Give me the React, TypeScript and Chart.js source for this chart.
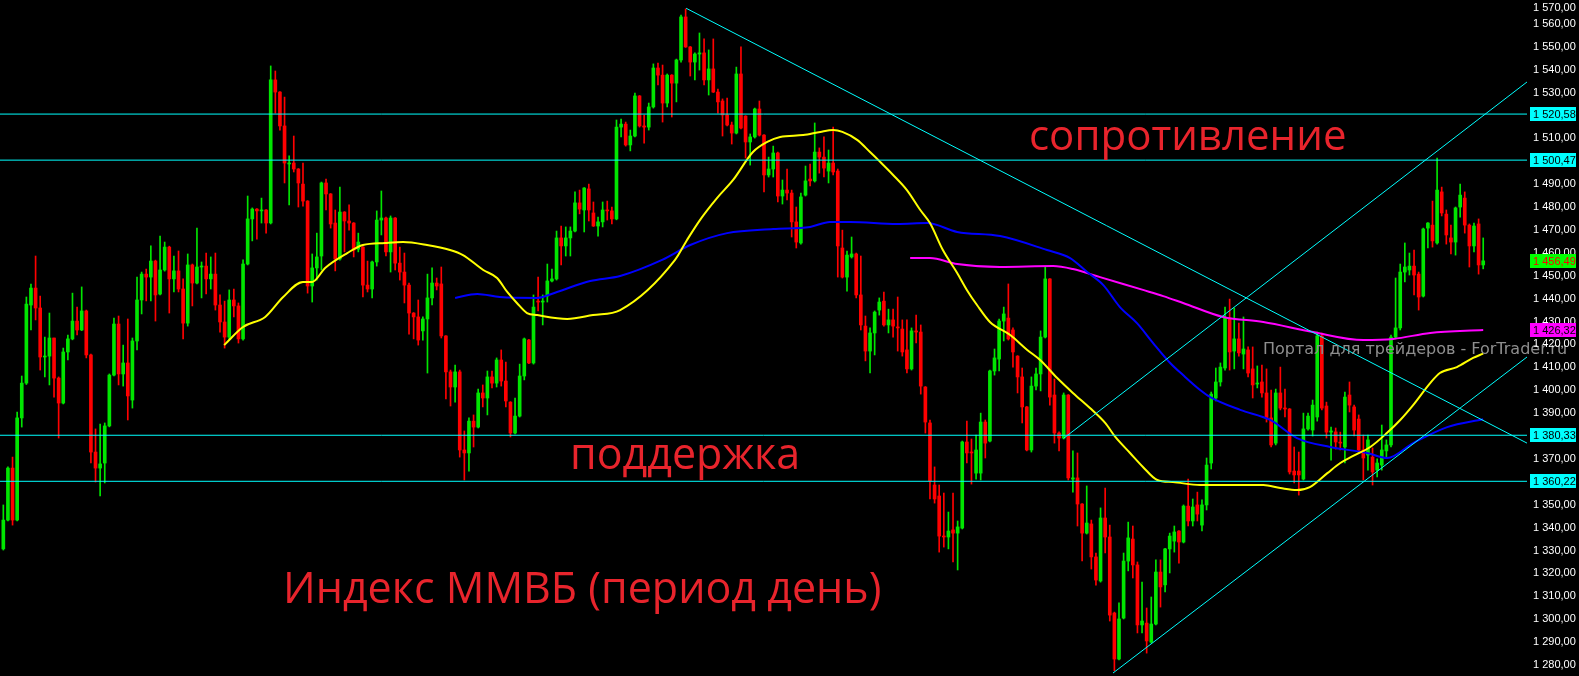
import React, { useEffect, useRef } from 'react';
import { Chart, registerables } from 'chart.js';

Chart.register(...registerables);

// ---- candle data (daily MICEX index) ----
const OPEN = [
  1330.7, 1343.3, 1366.0, 1343.3, 1387.9, 1403.1, 1437.2, 1444.6, 1435.9, 1414.5,
  1414.9, 1422.8, 1405.3, 1394.4, 1416.7, 1422.4, 1430.2, 1426.3, 1434.6, 1415.4,
  1373.0, 1366.0, 1368.2, 1384.4, 1406.6, 1428.9, 1407.1, 1411.9, 1395.7, 1421.5,
  1439.4, 1450.7, 1449.4, 1456.4, 1442.0, 1452.5, 1462.5, 1448.6, 1452.1, 1444.2,
  1429.3, 1454.7, 1446.8, 1453.8, 1454.2, 1448.6, 1450.7, 1437.2, 1429.8, 1423.2,
  1439.4, 1436.8, 1422.4, 1455.1, 1474.8, 1479.1, 1478.3, 1478.7, 1473.0, 1535.5,
  1530.2, 1515.4, 1498.8, 1499.2, 1496.6, 1490.0, 1482.6, 1445.5, 1453.4, 1458.6,
  1490.5, 1485.7, 1473.0, 1457.3, 1477.8, 1473.9, 1473.0, 1461.6, 1462.5, 1445.9,
  1444.2, 1456.0, 1474.3, 1475.2, 1460.4, 1475.2, 1455.5, 1451.6, 1445.9, 1433.7,
  1432.0, 1425.9, 1431.1, 1440.3, 1446.8, 1446.4, 1423.7, 1408.0, 1401.4, 1408.0,
  1373.9, 1372.6, 1386.5, 1383.9, 1398.8, 1396.6, 1405.8, 1403.1, 1413.2, 1404.0,
  1394.8, 1381.3, 1388.7, 1406.2, 1421.9, 1411.9, 1438.9, 1438.5, 1441.1, 1447.7,
  1448.6, 1466.5, 1463.0, 1466.5, 1469.5, 1481.8, 1478.7, 1487.9, 1477.4, 1471.7,
  1473.5, 1478.7, 1478.3, 1474.8, 1514.9, 1516.2, 1507.1, 1511.0, 1528.5, 1515.4,
  1514.9, 1523.7, 1540.7, 1537.6, 1525.4, 1537.6, 1534.1, 1544.2, 1563.0, 1549.9,
  1543.3, 1546.8, 1547.3, 1535.5, 1540.3, 1530.2, 1526.3, 1520.2, 1515.8, 1512.3,
  1538.1, 1519.7, 1508.4, 1510.6, 1522.8, 1511.4, 1494.0, 1496.6, 1503.6, 1484.8,
  1487.4, 1486.1, 1473.5, 1464.3, 1485.2, 1492.2, 1491.4, 1504.0, 1501.8, 1495.7,
  1499.2, 1495.7, 1462.1, 1449.4, 1458.2, 1459.5, 1441.6, 1428.0, 1417.1, 1425.0,
  1435.0, 1438.9, 1428.5, 1430.7, 1427.6, 1426.7, 1417.6, 1409.3, 1425.9, 1425.4,
  1401.4, 1385.7, 1358.6, 1353.8, 1336.3, 1335.9, 1339.0, 1337.6, 1339.8, 1377.4,
  1373.0, 1363.8, 1363.8, 1386.1, 1377.8, 1408.4, 1413.6, 1430.2, 1431.5, 1426.3,
  1414.9, 1405.8, 1392.7, 1373.9, 1401.8, 1407.1, 1423.2, 1448.6, 1397.9, 1381.3,
  1379.1, 1397.9, 1361.2, 1361.7, 1350.3, 1337.6, 1341.6, 1327.2, 1316.7, 1344.2,
  1335.9, 1302.7, 1282.6, 1300.5, 1325.4, 1335.0, 1323.7, 1297.5, 1298.3, 1290.0,
  1297.9, 1320.6, 1315.0, 1330.7, 1334.1, 1338.5, 1333.7, 1349.4, 1342.9, 1349.9,
  1341.1, 1349.9, 1368.2, 1396.6, 1403.6, 1409.7, 1431.5, 1417.1, 1422.4, 1415.8,
  1417.6, 1409.3, 1402.7, 1403.6, 1398.8, 1387.9, 1376.9, 1398.8, 1392.0, 1391.8,
  1364.7, 1364.7, 1361.2, 1383.1, 1382.6, 1388.3, 1423.7, 1393.1, 1381.7, 1381.8,
  1377.2, 1375.2, 1397.9, 1392.7, 1387.4, 1373.9, 1371.7, 1370.8, 1365.1, 1367.3,
  1373.5, 1376.1, 1423.2, 1427.2, 1451.6, 1452.5, 1454.2, 1450.7, 1441.1, 1470.8,
  1472.1, 1464.3, 1486.6, 1476.9, 1466.5, 1464.7, 1480.0, 1483.9, 1472.1, 1463.0,
  1472.6, 1454.7,
];

const HIGH = [
  1349.9, 1366.5, 1370.8, 1390.5, 1406.2, 1440.7, 1446.4, 1458.6, 1441.1, 1423.2,
  1433.7, 1422.8, 1405.8, 1418.4, 1424.1, 1442.4, 1436.3, 1445.1, 1435.0, 1415.8,
  1383.1, 1385.2, 1385.7, 1407.1, 1431.5, 1432.4, 1419.7, 1431.1, 1422.8, 1449.4,
  1451.6, 1452.9, 1463.0, 1456.8, 1467.3, 1464.7, 1462.9, 1458.6, 1460.8, 1448.6,
  1459.5, 1455.1, 1470.8, 1456.0, 1459.9, 1458.2, 1459.9, 1441.6, 1438.9, 1443.8,
  1444.2, 1438.1, 1456.9, 1484.8, 1479.6, 1479.3, 1483.9, 1478.9, 1541.6, 1539.4,
  1530.4, 1528.0, 1502.3, 1511.0, 1496.8, 1499.2, 1482.8, 1459.5, 1468.6, 1490.9,
  1492.2, 1485.9, 1478.7, 1488.7, 1478.0, 1480.9, 1473.2, 1468.6, 1462.7, 1456.4,
  1456.4, 1478.3, 1487.0, 1475.6, 1476.1, 1475.4, 1462.5, 1459.9, 1446.8, 1433.9,
  1439.4, 1432.0, 1450.7, 1453.4, 1449.0, 1453.8, 1423.9, 1408.8, 1411.0, 1408.8,
  1382.2, 1387.9, 1389.2, 1400.5, 1402.3, 1408.4, 1408.4, 1414.1, 1417.6, 1412.3,
  1395.0, 1396.6, 1411.4, 1422.8, 1422.2, 1441.6, 1449.4, 1441.6, 1455.1, 1452.9,
  1469.5, 1471.7, 1471.3, 1471.3, 1486.6, 1487.4, 1488.5, 1490.0, 1482.2, 1475.6,
  1482.2, 1482.6, 1480.0, 1518.0, 1518.4, 1517.1, 1513.6, 1529.8, 1528.7, 1520.2,
  1525.4, 1542.5, 1542.9, 1542.0, 1538.1, 1537.8, 1544.6, 1563.8, 1566.5, 1550.1,
  1547.3, 1556.0, 1553.4, 1548.6, 1553.4, 1531.5, 1527.2, 1527.6, 1517.1, 1541.1,
  1549.9, 1519.9, 1511.9, 1523.2, 1526.3, 1511.6, 1501.8, 1506.6, 1504.0, 1491.8,
  1496.6, 1487.4, 1480.0, 1486.1, 1497.9, 1498.8, 1516.7, 1505.8, 1510.6, 1504.9,
  1514.9, 1496.6, 1469.9, 1460.8, 1466.9, 1459.9, 1458.6, 1432.4, 1427.2, 1434.6,
  1440.3, 1442.9, 1435.4, 1435.4, 1440.7, 1430.7, 1430.7, 1427.2, 1432.8, 1428.5,
  1401.6, 1387.0, 1366.5, 1358.6, 1355.1, 1346.8, 1355.1, 1342.9, 1377.8, 1386.5,
  1378.7, 1380.4, 1390.0, 1387.0, 1408.8, 1418.0, 1431.1, 1436.3, 1446.4, 1427.2,
  1415.1, 1409.7, 1392.9, 1405.8, 1409.7, 1425.9, 1453.8, 1448.8, 1404.9, 1381.8,
  1398.8, 1398.1, 1373.5, 1372.6, 1350.5, 1358.2, 1343.3, 1328.9, 1348.6, 1357.3,
  1341.1, 1303.1, 1307.1, 1328.9, 1342.4, 1340.7, 1325.0, 1316.2, 1304.9, 1309.7,
  1325.9, 1325.9, 1330.9, 1337.6, 1340.7, 1338.7, 1349.9, 1361.2, 1352.5, 1355.5,
  1352.1, 1370.4, 1399.2, 1409.7, 1411.9, 1436.3, 1439.8, 1435.9, 1429.3, 1432.0,
  1418.9, 1418.9, 1410.6, 1411.0, 1409.3, 1400.1, 1400.5, 1410.1, 1400.5, 1392.0,
  1375.2, 1373.0, 1390.0, 1390.0, 1395.7, 1425.4, 1425.0, 1394.8, 1383.9, 1383.5,
  1381.7, 1399.2, 1403.6, 1393.5, 1389.2, 1380.4, 1380.4, 1374.8, 1370.0, 1384.8,
  1378.3, 1424.1, 1449.0, 1455.1, 1464.3, 1459.9, 1461.2, 1451.6, 1470.8, 1473.2,
  1482.6, 1501.4, 1488.7, 1478.7, 1472.1, 1480.0, 1490.0, 1486.6, 1472.6, 1473.0,
  1474.8, 1466.5,
];

const LOW = [
  1330.2, 1342.9, 1341.1, 1342.9, 1383.9, 1402.5, 1426.3, 1430.7, 1408.8, 1405.8,
  1402.3, 1397.0, 1379.1, 1394.0, 1413.2, 1422.0, 1424.1, 1426.0, 1414.1, 1368.2,
  1359.9, 1353.8, 1359.5, 1384.0, 1406.2, 1402.3, 1401.8, 1387.0, 1392.2, 1417.6,
  1433.3, 1439.0, 1439.0, 1430.2, 1441.6, 1452.0, 1433.7, 1442.9, 1442.9, 1422.4,
  1428.0, 1436.8, 1446.4, 1440.3, 1442.0, 1444.2, 1435.0, 1425.4, 1418.4, 1421.9,
  1432.0, 1420.6, 1421.9, 1454.7, 1465.2, 1466.0, 1473.0, 1468.6, 1472.6, 1521.0,
  1513.6, 1490.5, 1480.9, 1495.3, 1480.0, 1480.4, 1442.4, 1438.5, 1448.1, 1452.5,
  1478.7, 1470.8, 1452.1, 1456.8, 1460.4, 1469.9, 1458.2, 1460.4, 1440.7, 1442.9,
  1440.3, 1454.2, 1467.8, 1458.6, 1451.6, 1452.5, 1448.1, 1438.1, 1424.5, 1422.4,
  1419.7, 1421.9, 1407.5, 1437.2, 1443.8, 1422.8, 1396.2, 1393.1, 1394.8, 1370.8,
  1360.8, 1364.7, 1375.2, 1383.5, 1392.7, 1389.2, 1401.0, 1401.4, 1401.8, 1392.7,
  1379.6, 1380.9, 1388.3, 1404.5, 1411.6, 1411.4, 1434.6, 1428.5, 1438.5, 1447.3,
  1448.1, 1454.7, 1458.6, 1458.6, 1469.1, 1477.0, 1469.1, 1473.9, 1471.5, 1467.3,
  1471.3, 1474.3, 1472.6, 1474.4, 1510.6, 1506.6, 1504.5, 1510.6, 1514.9, 1507.9,
  1513.6, 1523.2, 1533.3, 1517.1, 1523.7, 1519.3, 1525.9, 1543.3, 1549.7, 1537.2,
  1535.5, 1539.8, 1533.3, 1528.9, 1530.0, 1521.0, 1511.0, 1515.4, 1507.5, 1511.9,
  1514.1, 1501.4, 1498.3, 1510.1, 1511.0, 1486.6, 1493.1, 1493.1, 1482.2, 1481.3,
  1483.1, 1466.9, 1462.1, 1463.8, 1484.8, 1489.2, 1490.9, 1494.8, 1493.1, 1490.5,
  1494.0, 1449.4, 1449.0, 1443.3, 1457.7, 1440.3, 1426.3, 1412.8, 1407.5, 1415.4,
  1432.8, 1428.0, 1425.0, 1423.2, 1417.1, 1414.9, 1407.5, 1408.8, 1420.6, 1398.3,
  1381.3, 1352.5, 1350.7, 1329.3, 1331.5, 1330.7, 1325.0, 1321.5, 1339.4, 1368.2,
  1359.0, 1361.2, 1360.8, 1370.4, 1377.4, 1406.6, 1408.4, 1421.5, 1421.9, 1410.1,
  1398.8, 1385.7, 1373.5, 1373.0, 1400.1, 1399.7, 1422.8, 1393.5, 1376.9, 1373.5,
  1378.7, 1360.8, 1355.5, 1340.7, 1325.4, 1337.2, 1321.9, 1314.9, 1316.2, 1328.9,
  1299.2, 1277.5, 1282.2, 1300.1, 1321.1, 1318.0, 1294.0, 1294.0, 1285.2, 1289.6,
  1297.5, 1305.3, 1311.9, 1320.2, 1329.3, 1324.5, 1333.3, 1340.7, 1340.7, 1342.9,
  1338.5, 1347.7, 1365.6, 1395.3, 1401.8, 1408.8, 1408.8, 1409.3, 1414.9, 1409.3,
  1405.8, 1396.6, 1401.0, 1397.0, 1386.1, 1375.2, 1376.1, 1391.4, 1388.3, 1363.4,
  1359.5, 1354.2, 1360.8, 1382.6, 1380.0, 1386.5, 1391.4, 1379.1, 1369.5, 1374.3,
  1373.9, 1368.2, 1390.5, 1380.0, 1372.6, 1360.8, 1365.1, 1358.6, 1362.1, 1365.1,
  1370.4, 1375.2, 1422.4, 1426.3, 1447.3, 1450.3, 1441.6, 1435.0, 1440.7, 1462.1,
  1462.5, 1463.8, 1476.1, 1463.8, 1459.5, 1459.0, 1475.6, 1468.6, 1453.8, 1460.4,
  1450.7, 1453.0,
];

const CLOSE = [
  1343.3, 1366.0, 1343.3, 1387.9, 1403.1, 1437.6, 1444.6, 1435.9, 1414.5, 1414.9,
  1422.8, 1405.3, 1394.4, 1416.7, 1422.4, 1430.2, 1426.3, 1434.6, 1415.4, 1373.0,
  1366.0, 1367.8, 1384.4, 1406.6, 1428.9, 1407.1, 1411.9, 1397.5, 1421.5, 1439.4,
  1450.7, 1449.4, 1456.4, 1441.6, 1452.5, 1462.5, 1448.6, 1452.1, 1444.2, 1429.3,
  1454.7, 1446.8, 1453.8, 1454.2, 1448.6, 1450.7, 1437.2, 1429.8, 1423.2, 1439.4,
  1436.8, 1422.4, 1455.1, 1474.8, 1479.1, 1478.3, 1478.7, 1473.0, 1535.5, 1530.2,
  1515.4, 1499.2, 1499.2, 1496.6, 1490.5, 1482.6, 1445.5, 1453.4, 1458.2, 1490.5,
  1485.7, 1472.6, 1457.3, 1477.8, 1473.9, 1473.0, 1461.2, 1464.7, 1445.9, 1444.2,
  1456.0, 1474.3, 1475.2, 1460.4, 1475.2, 1455.5, 1451.6, 1445.9, 1433.7, 1432.0,
  1421.9, 1431.1, 1440.3, 1446.8, 1445.5, 1423.7, 1408.0, 1401.4, 1408.0, 1373.9,
  1372.6, 1386.5, 1383.9, 1398.8, 1396.6, 1405.8, 1403.1, 1413.2, 1404.0, 1395.3,
  1381.3, 1388.7, 1406.2, 1422.4, 1411.9, 1436.3, 1438.5, 1438.7, 1447.7, 1448.6,
  1466.5, 1463.0, 1466.5, 1469.5, 1481.8, 1479.1, 1488.3, 1478.7, 1471.7, 1473.5,
  1478.7, 1478.3, 1474.8, 1514.9, 1516.2, 1507.1, 1511.0, 1528.5, 1515.4, 1514.9,
  1523.7, 1540.7, 1537.6, 1525.4, 1537.6, 1534.1, 1544.2, 1563.0, 1549.9, 1543.3,
  1546.8, 1547.3, 1535.5, 1540.3, 1530.2, 1525.9, 1520.2, 1515.8, 1512.3, 1538.1,
  1514.5, 1508.4, 1510.6, 1522.8, 1511.4, 1494.0, 1496.6, 1503.6, 1484.8, 1487.4,
  1486.1, 1473.5, 1464.7, 1484.4, 1491.4, 1491.4, 1504.0, 1501.8, 1497.0, 1499.2,
  1495.3, 1463.0, 1449.4, 1459.0, 1459.5, 1441.6, 1428.5, 1417.1, 1425.0, 1434.1,
  1438.5, 1428.5, 1430.7, 1428.0, 1427.2, 1416.7, 1409.3, 1425.9, 1425.4, 1401.8,
  1386.1, 1360.4, 1352.5, 1336.3, 1335.9, 1338.5, 1337.6, 1340.3, 1377.4, 1372.6,
  1372.6, 1373.9, 1386.1, 1376.9, 1408.4, 1414.1, 1430.2, 1433.3, 1422.4, 1416.7,
  1405.8, 1392.7, 1373.9, 1401.8, 1407.1, 1423.2, 1448.6, 1397.0, 1381.3, 1379.1,
  1397.9, 1361.7, 1361.7, 1350.3, 1337.6, 1342.0, 1327.2, 1317.1, 1344.2, 1335.9,
  1301.8, 1282.6, 1300.1, 1325.4, 1335.5, 1323.7, 1297.5, 1299.2, 1290.5, 1297.9,
  1320.6, 1314.1, 1330.7, 1336.3, 1338.1, 1333.7, 1349.4, 1342.9, 1349.0, 1345.9,
  1349.9, 1367.3, 1398.3, 1403.6, 1410.1, 1431.5, 1416.7, 1422.4, 1416.3, 1418.0,
  1407.5, 1402.3, 1403.1, 1398.8, 1387.9, 1376.1, 1398.8, 1392.2, 1391.8, 1364.3,
  1363.0, 1363.0, 1383.1, 1388.7, 1393.5, 1423.7, 1392.2, 1381.7, 1382.2, 1377.4,
  1376.9, 1397.0, 1393.5, 1382.6, 1373.9, 1370.4, 1378.3, 1364.3, 1368.2, 1373.9,
  1376.1, 1423.2, 1427.2, 1451.6, 1453.8, 1454.2, 1450.3, 1440.7, 1470.4, 1473.0,
  1465.2, 1487.4, 1477.4, 1467.8, 1464.7, 1479.6, 1485.2, 1472.1, 1463.0, 1471.7,
  1454.7, 1456.49,
];

// ---- moving averages (bar index, value) ----
const MA_YELLOW_I = [47.9, 52.0, 56.8, 60.7, 65.0, 67.0, 69.8, 74.6, 78.0, 82.8, 86.7, 91.9, 96.9, 99.7, 104.1, 107.1, 109.3, 111.4, 113.6, 115.8, 122.3, 127.9, 133.8, 145.7, 148.3, 151.1, 154.8, 158.3, 162.6, 165.7, 168.5, 173.5, 177.2, 180.0, 182.0, 185.2, 188.0, 190.2, 193.0, 196.0, 198.9, 201.0, 203.8, 206.9, 209.0, 211.2, 214.0, 218.4, 222.1, 224.9, 228.6, 232.0, 235.7, 239.0, 241.2, 244.4, 247.2, 250.3, 253.7, 259.6, 266.1, 273.3, 277.0, 280.6, 283.4, 287.2, 290.0, 292.8, 296.5, 300.1, 303.0, 305.8, 309.5, 311.6, 315.3, 318.8, 321.0];
const MA_YELLOW_V = [1419.7, 1427.6, 1432.0, 1440.7, 1447.3, 1447.3, 1453.4, 1459.9, 1463.4, 1464.3, 1464.7, 1463.4, 1461.2, 1459.0, 1452.5, 1449.0, 1442.9, 1438.1, 1433.7, 1432.8, 1431.1, 1432.8, 1435.0, 1456.9, 1465.6, 1474.3, 1483.9, 1491.8, 1504.0, 1508.4, 1510.6, 1511.4, 1512.8, 1513.6, 1512.8, 1509.3, 1504.0, 1499.7, 1494.0, 1487.4, 1478.7, 1473.0, 1461.2, 1451.2, 1443.8, 1437.2, 1429.8, 1424.1, 1417.6, 1413.2, 1405.3, 1398.8, 1392.2, 1385.7, 1379.6, 1372.6, 1366.5, 1360.8, 1359.9, 1358.6, 1358.6, 1358.6, 1357.3, 1356.4, 1357.7, 1363.8, 1368.2, 1371.3, 1375.2, 1381.3, 1387.0, 1393.5, 1403.1, 1407.5, 1410.1, 1414.1, 1416.0];

const MA_BLUE_I = [98.0, 102.8, 107.7, 115.8, 120.1, 127.3, 133.8, 142.9, 149.0, 157.0, 167.0, 175.0, 179.3, 183.7, 193.9, 200.4, 206.9, 216.2, 226.4, 231.4, 235.1, 238.6, 242.2, 245.9, 249.4, 253.1, 255.9, 259.6, 261.8, 268.3, 274.8, 280.6, 287.8, 295.8, 300.2, 305.8, 313.2, 321.0];
const MA_BLUE_V = [1440.3, 1442.0, 1440.7, 1440.3, 1442.9, 1447.7, 1449.9, 1456.9, 1463.4, 1468.6, 1470.4, 1471.3, 1473.5, 1473.5, 1472.6, 1473.0, 1469.1, 1467.3, 1461.2, 1457.7, 1451.6, 1445.9, 1436.3, 1429.3, 1420.6, 1411.9, 1406.6, 1400.1, 1397.0, 1391.4, 1387.0, 1379.1, 1375.2, 1372.6, 1370.4, 1376.9, 1383.9, 1387.3];

const MA_MAGENTA_I = [196.7, 201.0, 206.9, 216.2, 227.7, 232.0, 237.9, 242.9, 247.2, 251.6, 255.9, 264.6, 273.3, 284.1, 295.0, 301.5, 309.5, 321.0];
const MA_MAGENTA_V = [1457.7, 1457.7, 1455.1, 1453.8, 1454.2, 1452.9, 1449.4, 1446.4, 1443.8, 1441.1, 1438.1, 1432.0, 1429.8, 1425.4, 1421.9, 1422.4, 1425.0, 1426.32];

// ---- drawn objects ----
const LEVELS = [1520.58, 1500.47, 1380.33, 1360.22];
const TREND_DOWN_I = [148.1, 330.5];
const TREND_DOWN_V = [1566.8, 1376.9];
const CHANNEL_UP_I = [230.0, 330.5];
const CHANNEL_UP_V = [1379.0, 1534.6];
const CHANNEL_LOW_I = [240.7, 330.5];
const CHANNEL_LOW_V = [1276.5, 1414.5];

const TICKS = [1570, 1560, 1550, 1540, 1530, 1520, 1510, 1500, 1490, 1480, 1470, 1460, 1450, 1440, 1430, 1420, 1410, 1400, 1390, 1380, 1370, 1360, 1350, 1340, 1330, 1320, 1310, 1300, 1290, 1280];
const LAST_PRICE = 1456.49;
const MA200_LAST = 1426.32;

const GREEN = '#00e600';
const RED = '#ff0000';
const CYAN = '#00ffff';
const TEXT_RED = '#e8242c';

const fmt = (v: number) => {
  const [ip, dp] = v.toFixed(2).split('.');
  return ip.replace(/\B(?=(\d{3})+(?!\d))/g, ' ') + ',' + dp;
};

const overlay = {
  id: 'overlay',
  afterDatasetsDraw(chart: any) {
    const ctx: CanvasRenderingContext2D = chart.ctx;
    const ys = chart.scales.y;
    ctx.save();
    // annotations
    ctx.fillStyle = TEXT_RED;
    ctx.textAlign = 'left';
    ctx.textBaseline = 'alphabetic';
    ctx.font = '42px "Open Sans"';
    ctx.fillText('сопротивление', 1029, 150);
    ctx.font = '43px "Open Sans"';
    ctx.fillText('поддержка', 570, 469);
    ctx.fillText('Индекс ММВБ (период день)', 283, 603);

    // watermark
    ctx.fillStyle = '#8e8e8e';
    ctx.font = '16px "DejaVu Sans"';
    ctx.fillText('Портал для трейдеров - ForTrader.ru', 1263, 354);

    // axis labels
    ctx.font = '11px "Liberation Sans"';
    ctx.textBaseline = 'middle';
    ctx.fillStyle = '#ffffff';
    TICKS.forEach((t) => {
      const y = Math.max(ys.getPixelForValue(t), 8);
      ctx.fillText(fmt(t), 1533, y);
    });
    const boxes: [number, string, string][] = [
      ...LEVELS.map((l) => [l, CYAN, '#000000'] as [number, string, string]),
      [LAST_PRICE, '#00ff00', '#ff0000'],
      [MA200_LAST, '#ff00ff', '#000000'],
    ];
    boxes.forEach(([v, bg, fg]) => {
      const y = ys.getPixelForValue(v);
      ctx.fillStyle = bg;
      ctx.fillRect(1530, Math.round(y) - 7, 46, 14);
      ctx.fillStyle = fg;
      ctx.fillText(fmt(v), 1533, Math.round(y) + 0.5);
    });
    ctx.restore();
  },
};

const pairs = (xs: number[], vs: number[]) => xs.map((x, i) => ({ x, y: vs[i] }));

export default function App() {
  const ref = useRef<HTMLCanvasElement>(null);
  useEffect(() => {
    document.body.style.margin = '0';
    document.body.style.background = '#000';
    const canvas = ref.current!;
    const idx = OPEN.map((_, i) => i);
    const colors = idx.map((i) => (CLOSE[i] >= OPEN[i] ? GREEN : RED));
    const line = (data: any[], color: string, width: number, order: number, smooth: boolean) => ({
      type: 'line' as const,
      data,
      borderColor: color,
      borderWidth: width,
      pointRadius: 0,
      fill: false,
      cubicInterpolationMode: smooth ? ('monotone' as const) : ('default' as const),
      tension: 0,
      order,
    });
    const chart = new Chart(canvas, {
      type: 'bar',
      data: {
        datasets: [
          {
            type: 'bar',
            data: idx.map((i) => ({ x: i, y: [LOW[i], HIGH[i]] })),
            backgroundColor: colors,
            barThickness: 1,
            grouped: false,
            order: 10,
          } as any,
          {
            type: 'bar',
            data: idx.map((i) => ({ x: i, y: [OPEN[i], CLOSE[i]] })),
            backgroundColor: colors,
            barThickness: 3,
            minBarLength: 1,
            grouped: false,
            order: 9,
          } as any,
          line(pairs(MA_YELLOW_I, MA_YELLOW_V), '#ffff00', 2, 5, true),
          line(pairs(MA_BLUE_I, MA_BLUE_V), '#0000ff', 2, 6, true),
          line(pairs(MA_MAGENTA_I, MA_MAGENTA_V), '#ff00ff', 2, 7, true),
          ...LEVELS.map((l) => line([{ x: -0.72, y: l }, { x: 330.5, y: l }], CYAN, 1, 3, false)),
          line(pairs(TREND_DOWN_I, TREND_DOWN_V), CYAN, 1, 2, false),
          line(pairs(CHANNEL_UP_I, CHANNEL_UP_V), CYAN, 1, 2, false),
          line(pairs(CHANNEL_LOW_I, CHANNEL_LOW_V), CYAN, 1, 2, false),
        ] as any,
      },
      options: {
        responsive: false,
        animation: false,
        devicePixelRatio: 1,
        layout: { padding: { left: 0, right: 52, top: 0, bottom: 0 } },
        plugins: { legend: { display: false }, tooltip: { enabled: false } },
        events: [],
        scales: {
          x: { type: 'linear', min: -0.72, max: 330.5, display: false, offset: false },
          y: { type: 'linear', min: 1275.2, max: 1570.4, display: false },
        },
      } as any,
      plugins: [overlay],
    });
    return () => chart.destroy();
  }, []);
  return (
    <div style={{ position: 'absolute', left: 0, top: 0, width: 1579, height: 676, background: '#000' }}>
      <canvas ref={ref} width={1579} height={676} style={{ display: 'block', width: 1579, height: 676 }} />
    </div>
  );
}
